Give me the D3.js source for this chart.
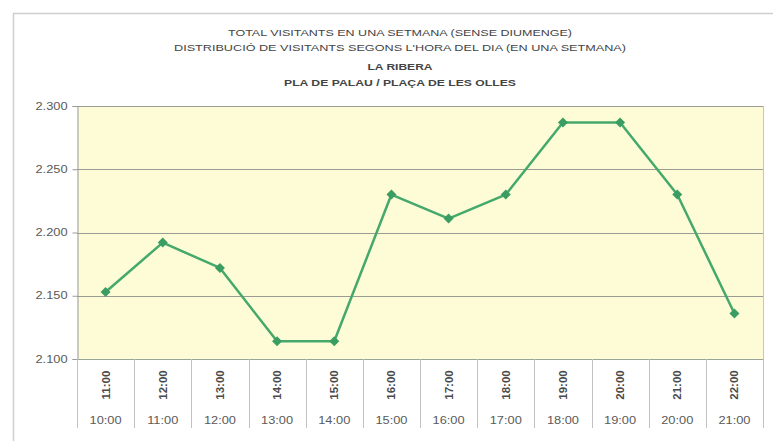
<!DOCTYPE html>
<html>
<head>
<meta charset="utf-8">
<script src="https://cdn.jsdelivr.net/npm/d3@7"></script>
<style>
  html, body { margin: 0; padding: 0; background: #ffffff; }
  svg { display: block; font-family: "Liberation Sans", Arial, sans-serif; }
</style>
</head>
<body>
<svg id="chart" width="773" height="441"></svg>
<script>
// ---- data ----
const titleLines = [
  "TOTAL VISITANTS EN UNA SETMANA (SENSE DIUMENGE)",
  "DISTRIBUCIÓ DE VISITANTS SEGONS L'HORA DEL DIA (EN UNA SETMANA)",
  "LA RIBERA",
  "PLA DE PALAU / PLAÇA DE LES OLLES"
];
const hourEnd   = ["11:00","12:00","13:00","14:00","15:00","16:00","17:00","18:00","19:00","20:00","21:00","22:00"];
const hourStart = ["10:00","11:00","12:00","13:00","14:00","15:00","16:00","17:00","18:00","19:00","20:00","21:00"];
const visitants = [2153, 2192, 2172, 2114, 2114, 2230, 2211, 2230, 2287, 2287, 2230, 2136];
const yTicks = [2100, 2150, 2200, 2250, 2300];

// ---- layout ----
const svg = d3.select("#chart");
const W = 773, H = 441;
const plot = { left: 77, right: 763, top: 106, bottom: 359 };
const stretch = 1.28;

svg.append("rect").attr("width", W).attr("height", H).attr("fill", "#ffffff");

// outer chart frame
svg.append("rect")
  .attr("x", 13.5).attr("y", 13.5).attr("width", 820).attr("height", 520)
  .attr("fill", "none").attr("stroke", "#cfcfcf").attr("stroke-width", 1.5);

// titles
const titleY = [36, 51, 70, 86];
const titleW = [344, 452, 65, 232];
titleLines.forEach((t, i) => {
  svg.append("text")
    .attr("x", 400).attr("y", titleY[i])
    .attr("text-anchor", "middle")
    .attr("font-size", "9.5px")
    .attr("font-weight", i >= 2 ? "bold" : "normal")
    .attr("fill", "#444")
    .attr("textLength", titleW[i])
    .attr("lengthAdjust", "spacingAndGlyphs")
    .text(t);
});

// scales
const x = d3.scaleBand().domain(hourEnd).range([plot.left, plot.right]).padding(0);
const y = d3.scaleLinear().domain([2100, 2300]).range([plot.bottom, plot.top]);
const cx = d => x(d) + x.bandwidth() / 2;

// plot background
svg.append("rect")
  .attr("x", plot.left).attr("y", plot.top)
  .attr("width", plot.right - plot.left).attr("height", plot.bottom - plot.top)
  .attr("fill", "#fdfcd6");

// gridlines
svg.append("g").selectAll("line").data(yTicks.slice(1)).join("line")
  .attr("x1", plot.left).attr("x2", plot.right)
  .attr("y1", d => Math.round(y(d)) + 0.5).attr("y2", d => Math.round(y(d)) + 0.5)
  .attr("stroke", "#9b9b95").attr("stroke-width", 1);

// right border
svg.append("line")
  .attr("x1", plot.right + 0.5).attr("x2", plot.right + 0.5)
  .attr("y1", plot.top).attr("y2", plot.bottom)
  .attr("stroke", "#c4c4c0");

// y axis
const locale = d3.formatLocale({ decimal: ",", thousands: ".", grouping: [3], currency: ["", "€"] });
const fmt = locale.format(",");
const yAxis = svg.append("g")
  .attr("transform", `translate(${plot.left + 0.5},0)`)
  .call(d3.axisLeft(y).tickValues(yTicks).tickFormat(fmt).tickSize(5).tickPadding(5));
yAxis.select(".domain").attr("stroke", "#9a9a9a");
yAxis.selectAll(".tick line").attr("stroke", "#9a9a9a");
yAxis.selectAll(".tick text")
  .attr("fill", "#5a5a5a").attr("font-size", "10px")
  .attr("font-family", "Liberation Sans, Arial, sans-serif")
  .each(function () {
    const len = this.getComputedTextLength();
    d3.select(this).attr("textLength", len * stretch).attr("lengthAdjust", "spacingAndGlyphs");
  });

// x axis baseline
svg.append("line")
  .attr("x1", plot.left).attr("x2", plot.right)
  .attr("y1", plot.bottom + 0.5).attr("y2", plot.bottom + 0.5)
  .attr("stroke", "#9aa59a");

// category separators
const bounds = hourEnd.map(d => x(d)).concat([plot.right]);
svg.append("g").selectAll("line").data(bounds).join("line")
  .attr("x1", d => Math.round(d) + 0.5).attr("x2", d => Math.round(d) + 0.5)
  .attr("y1", plot.bottom).attr("y2", 428)
  .attr("stroke", "#c2c2c2");

// upper (rotated) labels
svg.append("g").selectAll("text").data(hourEnd).join("text")
  .attr("transform", d => `translate(${cx(d) + 0.5},385) rotate(-90)`)
  .attr("text-anchor", "middle").attr("dy", "0.35em")
  .attr("font-size", "10px").attr("font-weight", "bold").attr("fill", "#4a4a4a")
  .text(d => d)
  .each(function () {
    const len = this.getComputedTextLength();
    d3.select(this).attr("textLength", len * 1.15).attr("lengthAdjust", "spacingAndGlyphs");
  });

// lower labels
svg.append("g").selectAll("text").data(hourStart).join("text")
  .attr("x", (d, i) => cx(hourEnd[i])).attr("y", 424)
  .attr("text-anchor", "middle")
  .attr("font-size", "10px").attr("fill", "#5a5a5a")
  .text(d => d)
  .each(function () {
    const len = this.getComputedTextLength();
    d3.select(this).attr("textLength", len * stretch).attr("lengthAdjust", "spacingAndGlyphs");
  });

// line
const pts = hourEnd.map((h, i) => ({ h, v: visitants[i] }));
svg.append("path")
  .datum(pts)
  .attr("fill", "none").attr("stroke", "#45a96c").attr("stroke-width", 2.5)
  .attr("stroke-linejoin", "round")
  .attr("d", d3.line().x(d => cx(d.h)).y(d => y(d.v)));

// diamond markers
svg.append("g").selectAll("path").data(pts).join("path")
  .attr("transform", d => `translate(${cx(d.h)},${y(d.v)}) rotate(45)`)
  .attr("d", d3.symbol(d3.symbolSquare, 50))
  .attr("fill", "#3b9d62");
</script>
</body>
</html>
